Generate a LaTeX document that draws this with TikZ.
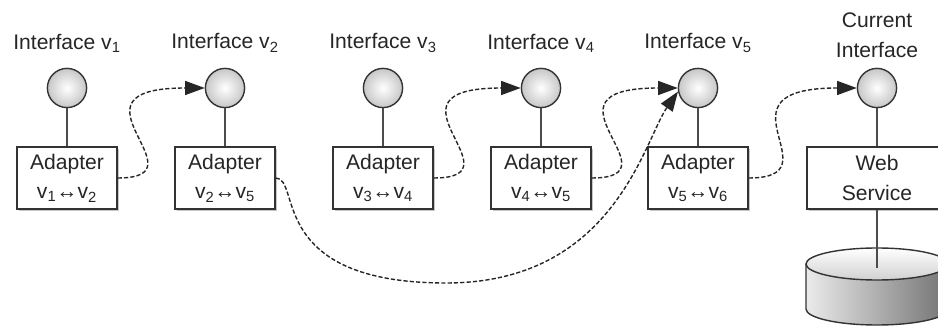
\documentclass[tikz,border=0pt]{standalone}
\usepackage{fontspec}
\setmainfont{Liberation Sans}
\usetikzlibrary{arrows.meta,shadows}
\tikzset{
    iface/.style={circle, draw=black!80, line width=1pt, minimum size=0.98cm, inner sep=0pt, shading=radial, inner color=white, outer color=black!22},
    adapter/.style={rectangle, draw=black!80, line width=1pt, fill=white, minimum width=2.5cm, minimum height=1.55cm, inner sep=0pt, align=center, drop shadow={shadow xshift=1.6pt, shadow yshift=-1.6pt, fill=black!45}},
    wire/.style={draw=black!70, line width=1.2pt},
    hop/.style={draw=black!85, line width=1pt, dash pattern=on 3pt off 1.5pt, -{Triangle[length=14pt, width=10pt]}}
}
\begin{document}
\begin{tikzpicture}[font=\fontsize{15}{21}\selectfont, text=black!85]
     \useasboundingbox (0, 0) rectangle (23.45, 8.175);
     \clip (0, 0) rectangle (23.45, 8.175);
         \node (lbl1) at (1.675, 7.1){Interface v\textsubscript{1}};
         \node[iface] (c1) at (1.675, 5.975){};
         \node[adapter] (a1) at (1.675, 3.725){Adapter\\v\textsubscript{1}↔v\textsubscript{2}};
         \draw[wire] (c1) to (a1);
         \node (lbl2) at (5.625, 7.1){Interface v\textsubscript{2}};
         \node[iface] (c2) at (5.625, 5.975){};
         \node[adapter] (a2) at (5.625, 3.725){Adapter\\v\textsubscript{2}↔v\textsubscript{5}};
         \draw[wire] (c2) to (a2);
         \node (lbl3) at (9.575, 7.1){Interface v\textsubscript{3}};
         \node[iface] (c3) at (9.575, 5.975){};
         \node[adapter] (a3) at (9.575, 3.725){Adapter\\v\textsubscript{3}↔v\textsubscript{4}};
         \draw[wire] (c3) to (a3);
         \node (lbl4) at (13.525, 7.1){Interface v\textsubscript{4}};
         \node[iface] (c4) at (13.525, 5.975){};
         \node[adapter] (a4) at (13.525, 3.725){Adapter\\v\textsubscript{4}↔v\textsubscript{5}};
         \draw[wire] (c4) to (a4);
         \node (lbl5) at (17.45, 7.1){Interface v\textsubscript{5}};
         \node[iface] (c5) at (17.45, 5.975){};
         \node[adapter] (a5) at (17.45, 3.725){Adapter\\v\textsubscript{5}↔v\textsubscript{6}};
         \draw[wire] (c5) to (a5);
         \node[align=center] (lbl6) at (21.925, 7.29){Current\\Interface};
         \node[iface] (c6) at (21.925, 5.975){};
         \node[adapter, minimum width=3.5cm] (ws) at (21.925, 3.725){Web\\Service};
         \draw[wire] (c6) to (ws);
             \fill[left color=black!8, right color=black!55] (20.15, 1.575) -- (20.15, 0.45) arc[start angle=180, end angle=360, x radius=1.775, y radius=0.4] -- (23.7, 1.575) -- cycle;
             \draw[draw=black!80, line width=1pt] (20.15, 1.575) -- (20.15, 0.45) arc[start angle=180, end angle=360, x radius=1.775, y radius=0.4] -- (23.7, 1.575);
             \draw[draw=black!80, line width=1pt, top color=white, bottom color=black!18] (21.925, 1.575) ellipse[x radius=1.775, y radius=0.4];
             \coordinate (db) at (21.925, 1.475);
         \draw[wire] (ws) to (db);
     \draw[hop] (a1.east) .. controls +(2.25, 0) and +(-3.75, 0) .. (c2.west);
     \draw[hop] (a3.east) .. controls +(2.25, 0) and +(-3.75, 0) .. (c4.west);
     \draw[hop] (a4.east) .. controls +(2.25, 0) and +(-3.75, 0) .. (c5.west);
     \draw[hop] (a5.east) .. controls +(2.25, 0) and +(-3.75, 0) .. (c6.west);
         \coordinate (low) at (11.15, 1.1);
     \draw[hop] (a2.east) .. controls +(0.65, 0) and +(-4.5, 0) .. (low) .. controls +(4.2, 0) and +(-0.85, -1.225) .. (c5.190);
\end{tikzpicture}
\end{document}
